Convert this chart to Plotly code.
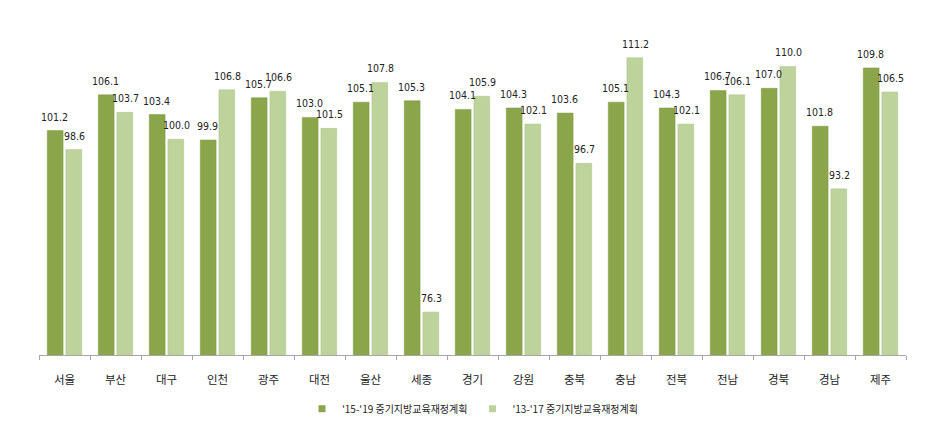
import plotly.graph_objects as go

regions = ["서울", "부산", "대구", "인천", "광주", "대전", "울산", "세종", "경기",
           "강원", "충북", "충남", "전북", "전남", "경북", "경남", "제주"]
plan_15_19 = [101.2, 106.1, 103.4, 99.9, 105.7, 103.0, 105.1, 105.3, 104.1,
              104.3, 103.6, 105.1, 104.3, 106.7, 107.0, 101.8, 109.8]
plan_13_17 = [98.6, 103.7, 100.0, 106.8, 106.6, 101.5, 107.8, 76.3, 105.9,
              102.1, 96.7, 111.2, 102.1, 106.1, 110.0, 93.2, 106.5]
series_names = ["'15-'19 중기지방교육재정계획", "'13-'17 중기지방교육재정계획"]
colors = ["#8BA54B", "#BDD39B"]
edge_colors = ["#7E9844", "#AFC58C"]

font_family = "Noto Sans CJK KR, Noto Sans, sans-serif"
num_font = "DejaVu Sans Condensed, Liberation Sans Narrow, Noto Sans, sans-serif"

fig = go.Figure()
for vals, name, col, lc in zip([plan_15_19, plan_13_17], series_names, colors, edge_colors):
    fig.add_trace(go.Bar(
        x=regions, y=vals, name=name, showlegend=False,
        marker=dict(color=col, line=dict(color=lc, width=0.5)),
        cliponaxis=False,
    ))

# value labels above bars
annotations = []
for vals, shift in [(plan_15_19, -10), (plan_13_17, 10)]:
    for r, v in zip(regions, vals):
        annotations.append(dict(
            x=r, y=v, xref="x", yref="y", text=f"{v:.1f}", showarrow=False,
            xshift=shift, yshift=6, yanchor="bottom", xanchor="center",
            font=dict(size=10.5, color="#222222", family=num_font),
        ))

# legend entries with small square markers
for name, col in zip(series_names, colors):
    fig.add_trace(go.Scatter(
        x=[None], y=[None], mode="markers", name=name,
        marker=dict(symbol="square", size=7, color=col),
        showlegend=True,
    ))

fig.update_layout(
    width=930, height=428,
    margin=dict(l=39, r=24, t=30, b=73, autoexpand=False),
    paper_bgcolor="white", plot_bgcolor="white",
    barmode="group", bargap=0.27, bargroupgap=0.15,
    font=dict(family=font_family, size=12, color="#222222"),
    showlegend=True,
    annotations=annotations,
    legend=dict(orientation="h", x=0.5, xanchor="center",
                yref="container", y=0.045, yanchor="middle",
                font=dict(size=10, color="#222222"), itemwidth=30,
                tracegroupgap=0, traceorder="normal"),
    xaxis=dict(showline=True, linecolor="#A6A6A6", linewidth=1, automargin=False,
               ticks="outside", tickson="boundaries", ticklen=4, tickcolor="#A6A6A6",
               ticklabelstandoff=14,
               tickfont=dict(size=11.5, color="#222222"), showgrid=False),
    yaxis=dict(range=[70.4, 115.0], showticklabels=False, showgrid=False,
               zeroline=False, showline=False, ticks="", automargin=False),
)

fig.write_html("out.html")
